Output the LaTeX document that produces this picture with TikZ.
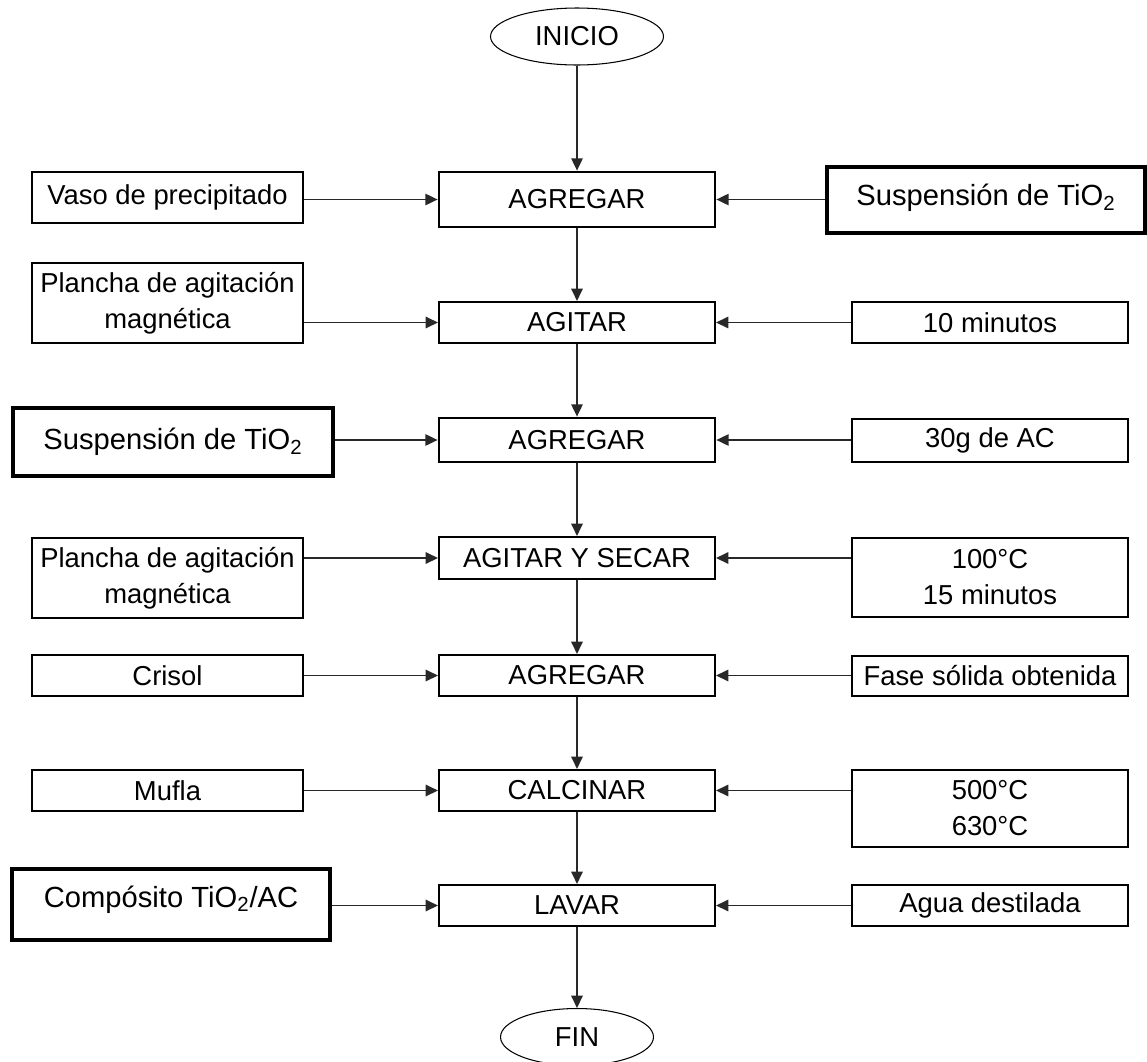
\documentclass[tikz,border=0pt]{standalone}
\usepackage{fontspec}
\setmainfont{Liberation Sans}
\usepackage{tikz}
\usetikzlibrary{arrows.meta,shapes,positioning}
\usepackage{xcolor}
\definecolor{lineg}{RGB}{40,40,40}
\tikzstyle{process} = [draw, line width=1.2pt, rectangle, minimum width=5.52cm, minimum height=0.82cm, inner sep=0pt, font=\fontsize{15.6pt}{20.5pt}\selectfont]
\tikzstyle{input} = [draw, line width=1.6pt, rectangle, minimum width=5.42cm, minimum height=0.82cm, inner sep=0pt, align=center, font=\fontsize{15.6pt}{20.5pt}\selectfont]
\tikzstyle{heavy} = [input, line width=2.2pt, font=\fontsize{16.6pt}{20.5pt}\selectfont]
\tikzstyle{terminal} = [draw, line width=0.6pt, ellipse, inner sep=0pt, font=\fontsize{15.6pt}{20.5pt}\selectfont]
\tikzstyle{arrow} = [line width=0.9pt, color=lineg, -{Triangle[length=7pt,width=6.5pt]}]

\begin{document}
\begin{tikzpicture}[x=0.02cm, y=-0.02cm]
\useasboundingbox (0,0) rectangle (1147,1062);

% Main column
\node[terminal, minimum width=3.46cm, minimum height=1.14cm] (inicio) at (577,36.5) {INICIO};
\node[process, line width=1.6pt, minimum height=1.1cm] (a1) at (577,199.5) {AGREGAR};
\node[process] (a2) at (577,322.5) {AGITAR};
\node[process, line width=1.6pt, minimum height=0.88cm] (a3) at (577,440) {AGREGAR};
\node[process, minimum height=0.84cm] (a4) at (577,558) {AGITAR Y SECAR};
\node[process] (a5) at (577,675.5) {AGREGAR};
\node[process] (a6) at (577,790.5) {CALCINAR};
\node[process] (a7) at (577,905.5) {LAVAR};
\node[terminal, minimum width=3.06cm, minimum height=1.14cm] (fin) at (577,1037) {FIN};

% Left inputs
\node[input, minimum height=1.02cm] (l1) at (167.5,197.5) {Vaso de precipitado};
\node[input, minimum height=1.6cm] (l2) at (167.5,303) {Plancha de agitación\\magnética};
\node[heavy, minimum width=6.4cm, minimum height=1.36cm] (l3) at (173,442) {Suspensión de TiO\textsubscript{2}};
\node[input, minimum height=1.6cm] (l4) at (167.5,578) {Plancha de agitación\\magnética};
\node[input] (l5) at (167.5,675.5) {Crisol};
\node[input] (l6) at (167.5,790.5) {Mufla};
\node[heavy, minimum width=6.36cm, minimum height=1.42cm, text height=0.42cm, text depth=0.32cm] (l7) at (171,904.5) {Compósito TiO\textsubscript{2}/AC};

% Right inputs
\node[heavy, minimum width=6.36cm, minimum height=1.32cm, text height=0.42cm, text depth=0.2cm] (r1) at (986,200) {Suspensión de TiO\textsubscript{2}};
\node[input, minimum width=5.52cm] (r2) at (990,322.5) {10 minutos};
\node[input, minimum width=5.52cm, minimum height=0.86cm] (r3) at (990,440.5) {30g de AC};
\node[input, minimum width=5.52cm, minimum height=1.58cm] (r4) at (990,577.5) {100°C\\15 minutos};
\node[input, minimum width=5.52cm, minimum height=0.8cm] (r5) at (990,676) {Fase sólida obtenida};
\node[input, minimum width=5.52cm, minimum height=1.54cm] (r6) at (990,808.5) {500°C\\630°C};
\node[input, minimum width=5.52cm] (r7) at (990,905.5) {Agua destilada};

% Flow
\draw[arrow] (inicio) -- (a1);
\draw[arrow] (a1) -- (a2);
\draw[arrow] (a2) -- (a3);
\draw[arrow] (a3) -- (a4);
\draw[arrow] (a4) -- (a5);
\draw[arrow] (a5) -- (a6);
\draw[arrow] (a6) -- (a7);
\draw[arrow] (a7) -- (fin);

% Side arrows
\draw[arrow] (l1.east |- a1) -- (a1.west);
\draw[arrow] (l2.east |- a2) -- (a2.west);
\draw[arrow] (l3.east |- a3) -- (a3.west);
\draw[arrow] (l4.east |- a4) -- (a4.west);
\draw[arrow] (l5.east |- a5) -- (a5.west);
\draw[arrow] (l6.east |- a6) -- (a6.west);
\draw[arrow] (l7.east |- a7) -- (a7.west);
\draw[arrow] (r1.west |- a1) -- (a1.east);
\draw[arrow] (r2.west |- a2) -- (a2.east);
\draw[arrow] (r3.west |- a3) -- (a3.east);
\draw[arrow] (r4.west |- a4) -- (a4.east);
\draw[arrow] (r5.west |- a5) -- (a5.east);
\draw[arrow] (r6.west |- a6) -- (a6.east);
\draw[arrow] (r7.west |- a7) -- (a7.east);
\end{tikzpicture}
\end{document}
